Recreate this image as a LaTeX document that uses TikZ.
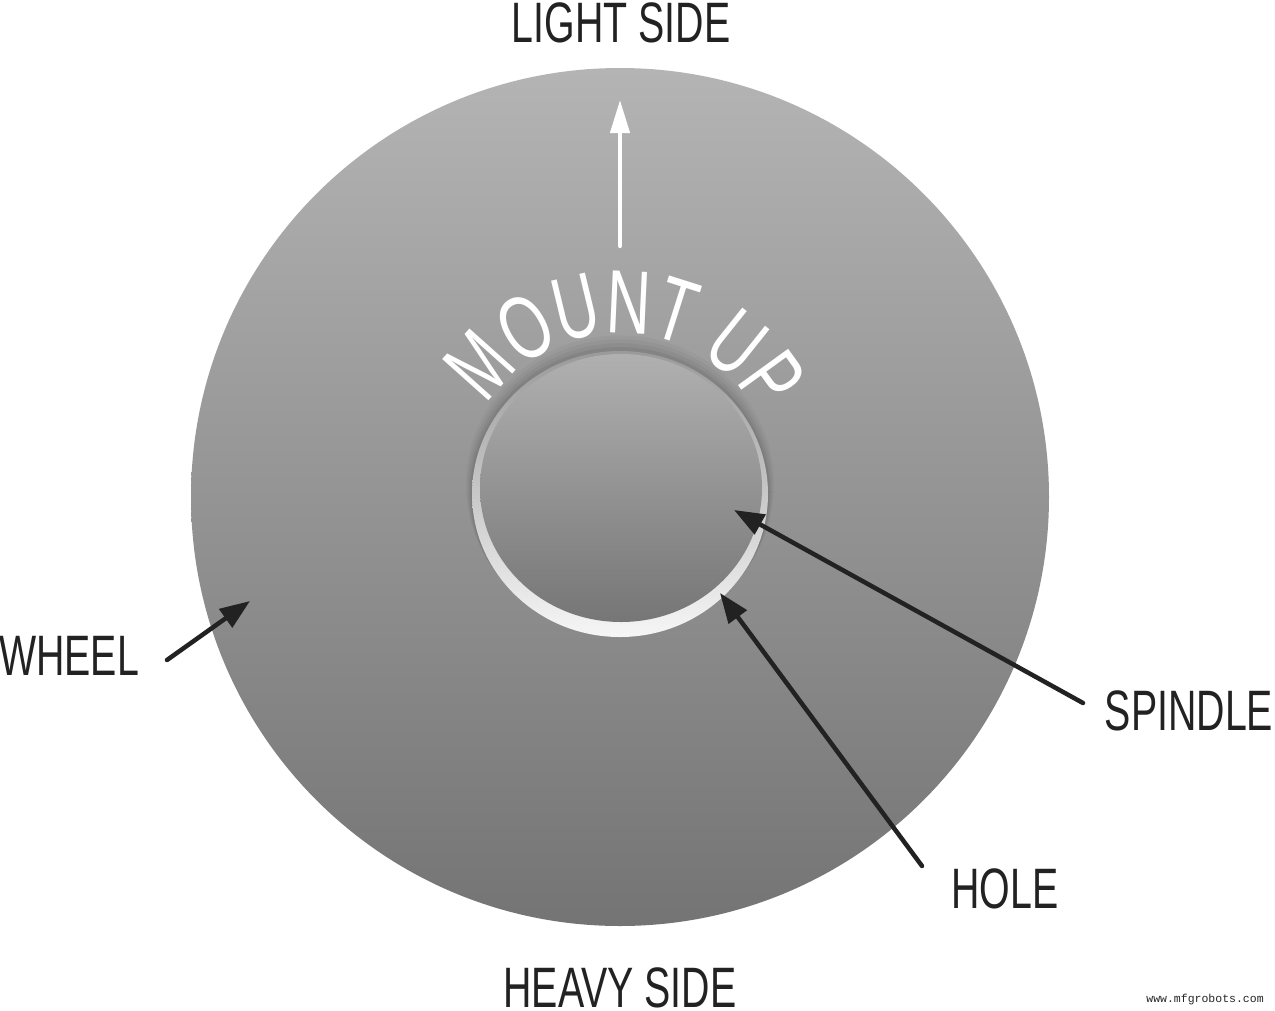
\documentclass[tikz,border=0pt]{standalone}
\usepackage{fontspec}
\setmainfont{Liberation Sans}
\newfontfamily\labelfont[FakeStretch=0.69]{Liberation Sans}
\newfontfamily\mountfont[FakeStretch=0.68]{Liberation Sans}
\newfontfamily\wmfont{Liberation Mono}
\usetikzlibrary{arrows.meta,decorations.text}
\definecolor{ink}{HTML}{222222}
\definecolor{wtop}{HTML}{B4B4B4}
\definecolor{wbot}{HTML}{747474}
\definecolor{stop}{HTML}{B0B0B0}
\definecolor{sbot}{HTML}{767676}
\definecolor{htop}{HTML}{9A9A9A}
\definecolor{hmid}{HTML}{D8D8D8}
\definecolor{hbot}{HTML}{F6F6F6}
\begin{document}
\begin{tikzpicture}[x=1pt,y=1pt,
  lbl/.style={font=\labelfont\fontsize{57}{60}\selectfont, text=ink, inner sep=0pt, anchor=base, text height=40pt, text depth=0pt},
  pointer/.style={color=ink, line width=4.5pt, line cap=round, -{Triangle[length=30pt,width=22pt]}},
  uparrow/.style={color=white, line width=4.3pt, line cap=round, -{Triangle[length=33pt,width=19pt]}}]
\useasboundingbox (0,0) rectangle (1275,-1010);
\fill[white] (0,0) rectangle (1275,-1010);
% wheel
\shade[top color=wtop, bottom color=wbot] (620,-497) circle[radius=429];
% soft shadow above the hole
\foreach \d/\o in {12/0.03, 9/0.035, 6/0.045, 3/0.06}
  \fill[black, opacity=\o] (620,{-494+0.8*\d}) ellipse[x radius={148+0.5*\d}, y radius={143+0.5*\d}];
% hole
\shade[top color=htop, middle color=hmid, bottom color=hbot] (620,-494) ellipse[x radius=148, y radius=143];
% spindle
\shade[top color=stop, bottom color=sbot] (621,-488) ellipse[x radius=141, y radius=134];
% curved text
\path[decorate, decoration={text along path, text align=center, text color=white,
  text={|\mountfont\fontsize{90}{92}\selectfont|MOUNT UP}}]
  (620,-490) ++(158:157) arc[start angle=158, end angle=18, radius=157];
% labels
\node[lbl] (light) at (621,-42) {LIGHT SIDE};
\node[lbl] (heavy) at (620,-1007) {HEAVY SIDE};
\node[lbl] (wheel) at (69,-675) {WHEEL};
\node[lbl] (spindle) at (1189,-730) {SPINDLE};
\node[lbl] (hole) at (1005,-908) {HOLE};
\node[font=\wmfont\fontsize{11.5}{12}\selectfont, text=black!85, inner sep=0pt, anchor=base] (wm) at (1205,-1002) {www.mfgrobots.com};
% arrows
\coordinate (upfrom) at (620,-246);
\coordinate (upto) at (620,-100);
\coordinate (wheelfrom) at (167,-660);
\coordinate (wheelto) at (250,-601);
\coordinate (spinfrom) at (1083,-703);
\coordinate (spinto) at (734,-510);
\coordinate (holefrom) at (922,-866);
\coordinate (holeto) at (720,-593);
\draw[uparrow] (upfrom) -- (upto);
\draw[pointer] (wheelfrom) -- (wheelto);
\draw[pointer] (spinfrom) -- (spinto);
\draw[pointer] (holefrom) -- (holeto);
\end{tikzpicture}
\end{document}
